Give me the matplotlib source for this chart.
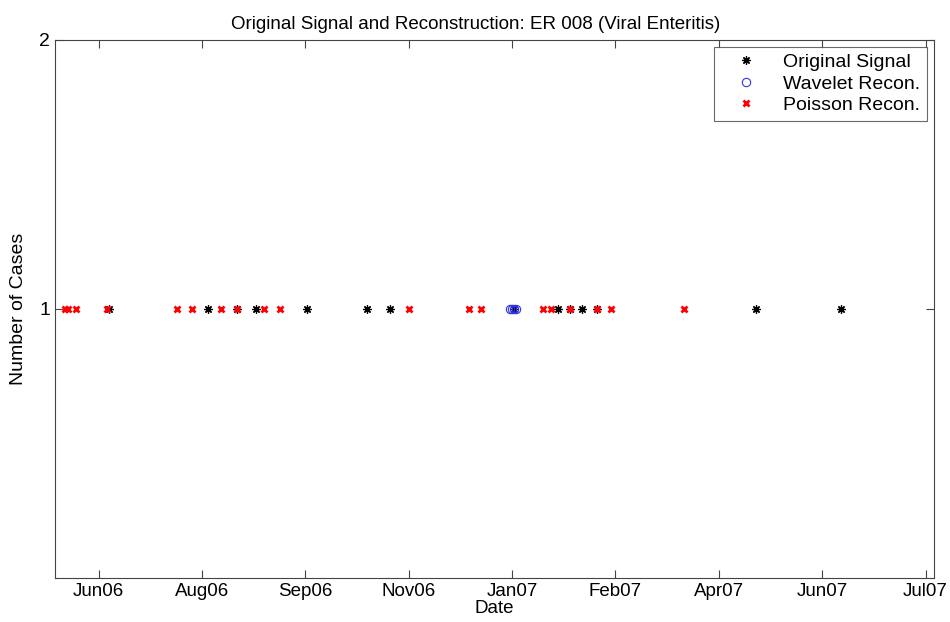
import numpy as np
import pandas as pd
import matplotlib
matplotlib.use("Agg")
import matplotlib.pyplot as plt
import matplotlib.dates as mdates

plt.rcParams['font.family'] = ['Liberation Sans', 'DejaVu Sans']

# observed cases (one case each)
orig_dates = ['2006-06-25', '2006-08-12', '2006-08-26', '2006-09-04', '2006-09-29',
              '2006-10-28', '2006-11-08', '2007-01-07', '2007-01-28', '2007-02-03',
              '2007-02-09', '2007-02-16', '2007-05-04', '2007-06-14']
orig_vals = [1] * len(orig_dates)

wave_dates = ['2007-01-05', '2007-01-06', '2007-01-07', '2007-01-08']
wave_vals = [1] * len(wave_dates)

pois_dates = ['2006-06-04', '2006-06-05', '2006-06-09', '2006-06-24', '2006-07-28',
              '2006-08-04', '2006-08-18', '2006-08-26', '2006-09-08', '2006-09-16',
              '2006-11-17', '2006-12-16', '2006-12-22', '2007-01-21', '2007-01-25',
              '2007-02-03', '2007-02-16', '2007-02-23', '2007-03-30']
pois_vals = [1] * len(pois_dates)

tick_dates = pd.date_range('2006-06-20', periods=9, freq='50D')
tick_labels = ['Jun06', 'Aug06', 'Sep06', 'Nov06', 'Jan07', 'Feb07', 'Apr07', 'Jun07', 'Jul07']


def main():
    fig = plt.figure(figsize=(9.5, 6.22), dpi=100)
    ax = fig.add_axes([0.058, 0.071, 0.925, 0.865])

    ax.plot(pd.to_datetime(orig_dates), orig_vals, linestyle='none', marker=(8, 2, 0),
            color='black', markersize=6, markeredgewidth=0.9, label='Original Signal')
    ax.plot(pd.to_datetime(wave_dates), wave_vals, linestyle='none', marker='o',
            markerfacecolor='none', markeredgecolor='#3333ee', markersize=6,
            markeredgewidth=0.8, label='Wavelet Recon.')
    ax.plot(pd.to_datetime(pois_dates), pois_vals, linestyle='none', marker='x',
            color='red', markersize=5, markeredgewidth=2, label='Poisson Recon.')

    ax.set_xlim(pd.Timestamp('2006-05-30'), pd.Timestamp('2007-07-29'))
    ax.set_ylim(0, 2)
    ax.set_xticks(mdates.date2num(tick_dates))
    ax.set_xticklabels(tick_labels)
    ax.set_yticks([1, 2])

    ax.tick_params(direction='in', top=True, right=True, length=6, labelsize=14,
                   color='#444444')
    ax.tick_params(axis='x', pad=4, labelsize=13.5)
    for s in ax.spines.values():
        s.set_color('#444444')

    ax.set_title('Original Signal and Reconstruction: ER 008 (Viral Enteritis)',
                 fontsize=13.5, pad=8, x=0.479)
    ax.set_xlabel('Date', fontsize=13.5, labelpad=0)
    ax.set_ylabel('Number of Cases', fontsize=14, labelpad=9)

    leg = ax.legend(loc='upper right', fontsize=14, frameon=True, fancybox=False,
                    edgecolor='#444444', borderaxespad=0.35, handletextpad=0.6,
                    labelspacing=0.2, borderpad=0.35, handlelength=2.6)
    leg.get_frame().set_linewidth(0.8)

    fig.savefig('out.png', dpi=100)


if __name__ == '__main__':
    main()
